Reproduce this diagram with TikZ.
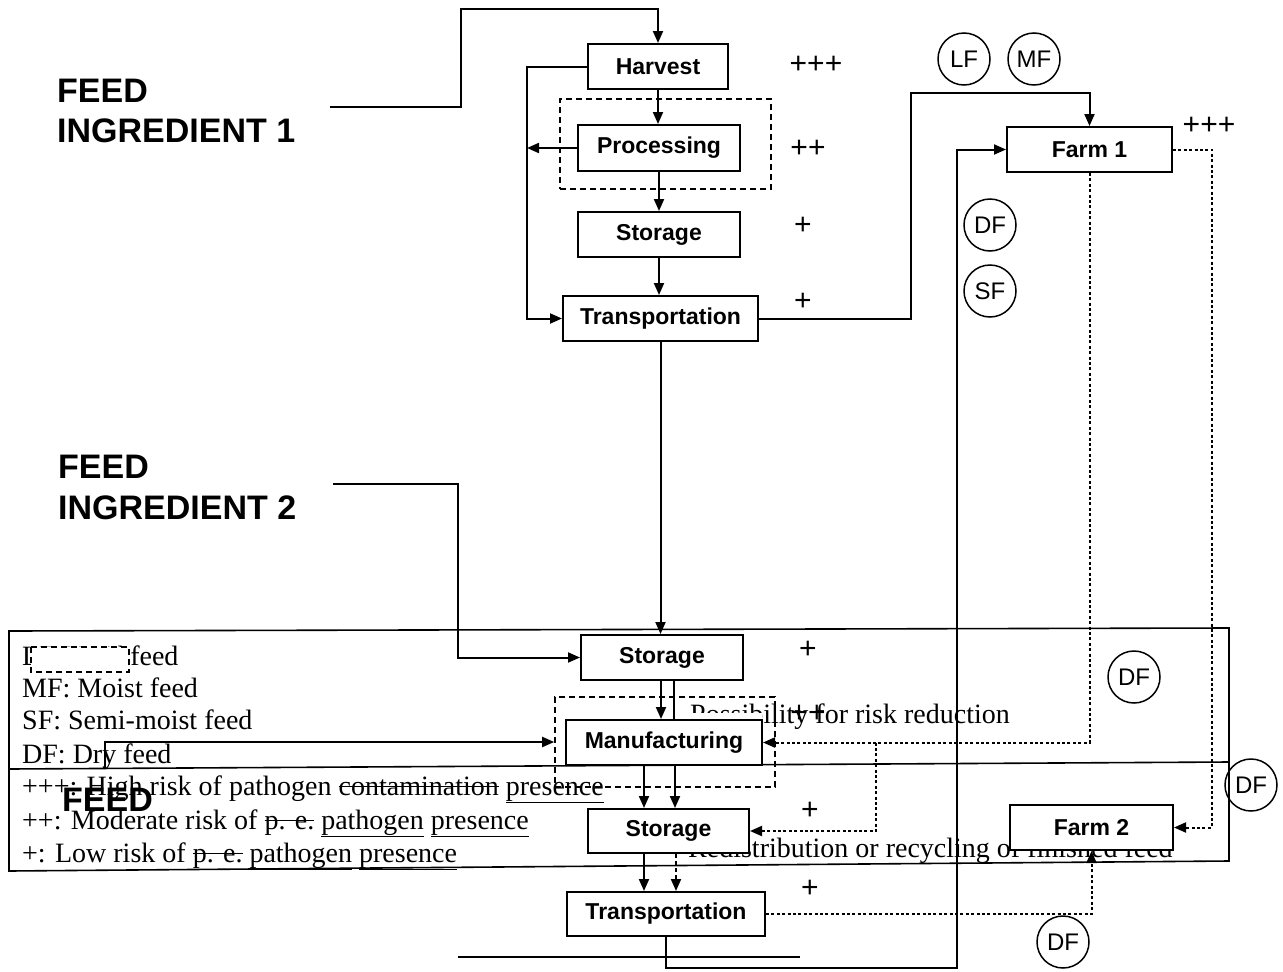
\documentclass[tikz,border=0pt]{standalone}
\usepackage{fontspec}
\setmainfont{Liberation Serif}
\newfontfamily\sansf{Liberation Sans}
\usetikzlibrary{arrows.meta,calc}
% struck-through word
\newcommand\strk[1]{\setbox0=\hbox{#1}\rlap{\rule[0.28em]{\wd0}{1.2pt}}\box0\relax}

\begin{document}
\begin{tikzpicture}[x=1pt,y=-1pt,
  box/.style={draw,line width=2pt,fill=white,minimum width=#1,minimum height=45pt,
    inner sep=0pt,font=\sansf\bfseries\fontsize{23}{27}\selectfont},
  grp/.style={draw,line width=1.6pt,dash pattern=on 6pt off 4pt,inner sep=0pt},
  arr/.style={-{Triangle[length=12pt,width=10pt]},line width=2pt},
  ln/.style={line width=2pt},
  dotl/.style={line width=3pt,dash pattern=on 3pt off 2.4pt},
  lab/.style={circle,draw,line width=1.5pt,minimum size=52pt,inner sep=0pt,
    font=\sansf\fontsize{24}{26}\selectfont},
  pl/.style={font=\sansf\fontsize{30}{30}\selectfont,inner sep=0pt},
  ttl/.style={font=\sansf\bfseries\fontsize{34}{38}\selectfont,anchor=west,inner sep=0pt},
  lg/.style={font=\fontsize{28}{32}\selectfont,anchor=base west,inner sep=0pt},
]
\fill[white] (0,0) rectangle (1283,972);
\useasboundingbox (0,0) rectangle (1283,972);

% ---------- legend frame and text ----------
\draw[line width=1.6pt] (9,631) -- (1229,628) -- (1229,861) -- (9,871) -- cycle;
\draw[line width=1.6pt] (9,769) -- (1229,762);

\node[lg] (l1) at (22,665) {L\resizebox{84pt}{\height}{F: Liquid}\hspace{7pt}feed};
\node[lg] (l2) at (22,697) {MF: Moist feed};
\node[lg] (l3) at (22,729) {SF: Semi-moist feed};
\node[lg] (l4) at (22,763) {DF: Dry feed};
\node[lg] (l5) at (22,795) {+++: High risk of pathogen \strk{contamination} \underline{presence}};
\node[lg] (l6) at (22,829) {++: Moderate risk of \strk{p. e.} \underline{pathogen} \underline{presence}};
\node[lg] (l7) at (22,862) {+: Low risk of \strk{p. e.} \underline{pathogen} \underline{presence}};
\draw[line width=1.4pt,dash pattern=on 6pt off 4pt,fill=white] (31,647) rectangle (129,672);

\node[lg] (poss) at (690,723) {Possibility for risk reduction};
\node[lg] (redis) at (688,857) {Redistribution or recycling of finished feed};
\fill[white] (680,713) rectangle (762,721);
\node[pl] (pm) at (808,714) {++};
\node[ttl] (feed3) at (62,800) {FEED};

% ---------- titles ----------
\node[ttl] (t1a) at (57,91) {FEED};
\node[ttl] (t1b) at (57,131) {INGREDIENT 1};
\node[ttl] (t2a) at (58,467) {FEED};
\node[ttl] (t2b) at (58,508) {INGREDIENT 2};

% ---------- groups ----------
\node[grp,minimum width=211pt,minimum height=90pt] (pgrp) at (665.5,144) {};
\node[grp,minimum width=220pt,minimum height=90pt] (mgrp) at (665,742) {};

% ---------- process boxes ----------
\node[box=140pt] (harvest) at (658,66.5) {Harvest};
\node[box=162pt,minimum height=46pt] (proc) at (659,148) {Processing};
\node[box=162pt] (stor1) at (659,234.5) {Storage};
\node[box=195pt] (trans1) at (660.5,318.5) {Transportation};
\node[box=165pt] (farm1) at (1089.5,149.5) {Farm 1};
\node[box=162pt] (stor2) at (662,657.5) {Storage};
\node[box=196pt] (manu) at (664,742.5) {Manufacturing};
\node[box=161pt,minimum height=44pt] (stor3) at (668.5,831) {Storage};
\node[box=198pt,minimum height=44pt] (trans2) at (666,914) {Transportation};
\node[box=163pt] (farm2) at (1091.5,827.5) {Farm 2};

% ---------- feed type markers ----------
\node[lab] (lf) at (964,59) {LF};
\node[lab] (mf) at (1034,59) {MF};
\node[lab] (df1) at (990,225) {DF};
\node[lab] (sf) at (990,291) {SF};
\node[lab] (df2) at (1134,677) {DF};
\node[lab] (df3) at (1251,785) {DF};
\node[lab] (df4) at (1063,942) {DF};

% ---------- risk marks ----------
\node[pl] (r1) at (816,65) {+++};
\node[pl] (r2) at (808,149) {++};
\node[pl] (r3) at (803,226) {+};
\node[pl] (r4) at (803,302) {+};
\node[pl] (r5) at (1209,126) {+++};
\node[pl] (r6) at (808,650) {+};
\node[pl] (r7) at (810,811) {+};
\node[pl] (r8) at (810,889) {+};

% ---------- connectors ----------
\coordinate (f1) at (330,107);
\coordinate (f2) at (333,484);
\coordinate (f3) at (105,769);
\coordinate (br) at (876,742.5);
\coordinate (s1) at (458,957);
\coordinate (s2) at (800,957);

\draw[arr] (f1) -| (461,9) -| (harvest.north);
\draw[arr] (harvest.west) -- (527,66.5) |- (trans1.west);
\draw[arr] (harvest.south) -- (harvest.south |- proc.north);
\draw[arr] (proc.west) -- (527,148);
\draw[arr] (proc.south) -- (stor1.north);
\draw[arr] (stor1.south) -- (stor1.south |- trans1.north);
\draw[arr] (trans1.east) -| (911,93) -| (farm1.north);
\draw[arr] (trans1.south) -- (trans1.south |- stor2.north);

\draw[arr] (f2) -- (458,484) |- (stor2.west);
\draw[arr] ([xshift=-1pt]stor2.south) -- ([xshift=-1pt]stor2.south |- manu.north);
\draw[ln] ([xshift=12pt]stor2.south) -- ([xshift=12pt]stor2.south |- manu.north);
\draw[arr] ([xshift=-20pt]manu.south) -- ([xshift=-20pt]manu.south |- stor3.north);
\draw[arr] ([xshift=11pt]manu.south) -- ([xshift=11pt]manu.south |- stor3.north);
\draw[arr] ([xshift=-24.5pt]stor3.south) -- ([xshift=-24.5pt]stor3.south |- trans2.north);
\draw[arr,dash pattern=on 4pt off 3pt] ([xshift=7.5pt]stor3.south) -- ([xshift=7.5pt]stor3.south |- trans2.north);
\draw[arr] (f3) |- (mgrp.west);

\draw[arr] (trans2.south) |- (957,968) |- (farm1.west);
\draw[ln] (s1) -- (s2);

\draw[dotl,arr] (farm1.south) |- (manu.east);
\draw[dotl,arr] (br) |- (stor3.east);
\draw[dotl,arr] (farm1.east) -- (1212,149.5) |- (farm2.east);
\draw[dotl,arr] (trans2.east) -| (farm2.south);
\end{tikzpicture}
\end{document}
